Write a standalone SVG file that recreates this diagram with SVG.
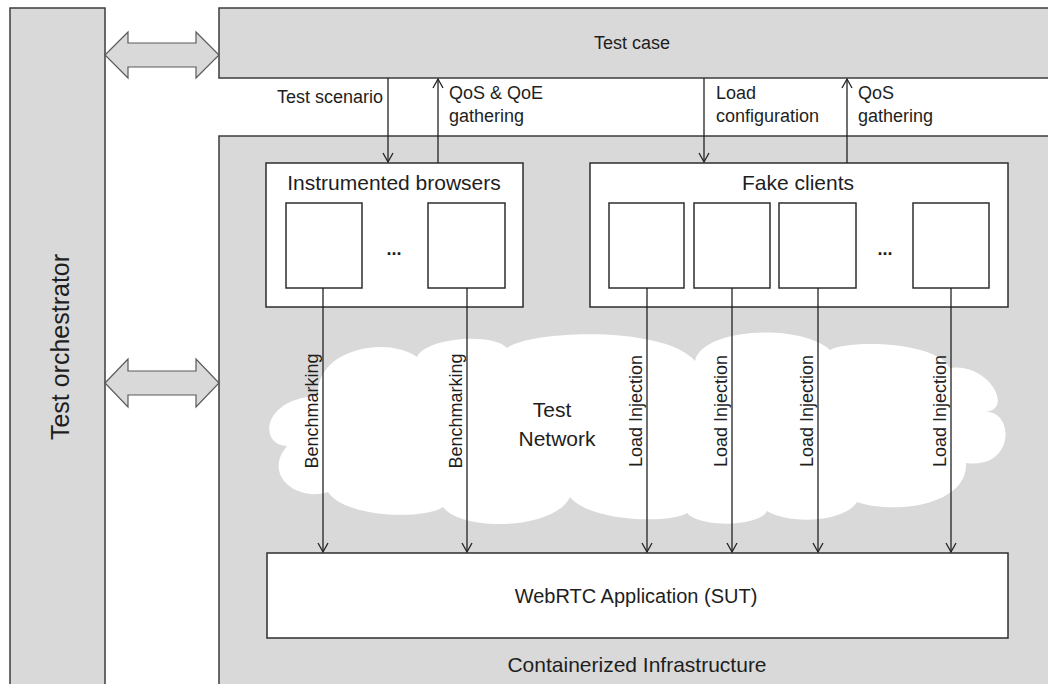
<svg xmlns="http://www.w3.org/2000/svg" width="1048" height="684" viewBox="0 0 1048 684">
<style>
  text { font-family: "Liberation Sans", Arial, sans-serif; fill: #1e1e1e; }
  .gray { fill: #d9d9d9; stroke: #3c3c3c; stroke-width: 1.5; }
  .white { fill: #ffffff; stroke: #2e2e2e; stroke-width: 1.5; }
  .dbl { fill: #d9d9d9; stroke: #5a5a5a; stroke-width: 1.2; }
  .conn { stroke: #222; stroke-width: 1.3; fill: none; marker-end: url(#arr); }
  .s { font-size: 18px; }
  .m { font-size: 21px; }
  .mid { text-anchor: middle; }
</style>
<defs>
  <marker id="arr" markerWidth="12" markerHeight="12" refX="10" refY="6" orient="auto" markerUnits="userSpaceOnUse">
    <path d="M1,1 L10,6 L1,11" fill="none" stroke="#222" stroke-width="1.3"/>
  </marker>
</defs>
<rect width="1048" height="684" fill="#ffffff"/>

<g id="orchestrator">
  <rect class="gray" x="10" y="8" width="95" height="700"/>
  <text transform="translate(69,347) rotate(-90)" class="mid" font-size="25">Test orchestrator</text>
</g>

<g id="test-case">
  <rect class="gray" x="219" y="8" width="840" height="70"/>
  <text x="632" y="49" class="s mid">Test case</text>
</g>

<g id="infrastructure">
  <rect class="gray" x="219" y="136" width="840" height="570"/>
  <text x="637" y="672" class="m mid">Containerized Infrastructure</text>
</g>

<g id="orch-arrow-top">
  <polygon class="dbl" points="105,55 128,32 128,43 196,43 196,32 219,55 196,78 196,67 128,67 128,78"/>
</g>
<g id="orch-arrow-infra">
  <polygon class="dbl" points="105,383 128,359 128,371 196,371 196,359 219,383 196,407 196,395 128,395 128,407"/>
</g>

<g id="test-network">
  <path fill="#ffffff" d="M287,446 C258,445 262,398 318,396 C315,350 385,335 417,357 C425,338 492,332 507,348 C530,330 665,325 695,361 C702,328 800,323 830,350 C845,340 935,340 950,368 C988,362 1015,410 985,412 C1015,410 1015,470 966,463 C968,505 895,515 857,502 C845,522 790,525 767,511 C760,527 700,528 687,513 C670,524 590,522 570,497 C555,530 462,532 443,507 C425,520 345,518 328,492 C298,502 262,476 287,446 Z"/>
  <text x="552" y="417" class="m mid">Test</text>
  <text x="557" y="446" class="m mid">Network</text>
</g>

<g id="instrumented-browsers">
  <rect class="white" x="266" y="163" width="257" height="144"/>
  <text x="394" y="190" class="m mid">Instrumented browsers</text>
  <rect class="white" x="286" y="203" width="76" height="85"/>
  <rect class="white" x="428" y="203" width="77" height="85"/>
  <text x="394" y="255" class="s mid" font-weight="bold">...</text>
</g>

<g id="fake-clients">
  <rect class="white" x="590" y="163" width="418" height="144"/>
  <text x="798" y="190" class="m mid">Fake clients</text>
  <rect class="white" x="609" y="203" width="75" height="85"/>
  <rect class="white" x="694" y="203" width="76" height="85"/>
  <rect class="white" x="779" y="203" width="77" height="85"/>
  <rect class="white" x="913" y="203" width="76" height="85"/>
  <text x="885" y="255" class="s mid" font-weight="bold">...</text>
</g>

<g id="webrtc-app">
  <rect class="white" x="267" y="553" width="741" height="85"/>
  <text x="636" y="603" class="mid" font-size="20">WebRTC Application (SUT)</text>
</g>

<g id="connectors">
  <line class="conn" x1="388" y1="78" x2="388" y2="162"/>
  <line class="conn" x1="438" y1="163" x2="438" y2="79"/>
  <line class="conn" x1="704" y1="78" x2="704" y2="162"/>
  <line class="conn" x1="847" y1="163" x2="847" y2="79"/>
  <line class="conn" x1="323" y1="288" x2="323" y2="552"/>
  <line class="conn" x1="467" y1="288" x2="467" y2="552"/>
  <line class="conn" x1="647" y1="288" x2="647" y2="552"/>
  <line class="conn" x1="732" y1="288" x2="732" y2="552"/>
  <line class="conn" x1="818" y1="288" x2="818" y2="552"/>
  <line class="conn" x1="951" y1="288" x2="951" y2="552"/>
</g>

<g id="connector-labels">
  <text x="383" y="103" class="s" text-anchor="end">Test scenario</text>
  <text x="449" y="99" class="s">QoS &amp; QoE</text>
  <text x="449" y="122" class="s">gathering</text>
  <text x="716" y="99" class="s">Load</text>
  <text x="716" y="122" class="s">configuration</text>
  <text x="858" y="99" class="s">QoS</text>
  <text x="858" y="122" class="s">gathering</text>
  <text transform="translate(318,411) rotate(-90)" class="s mid">Benchmarking</text>
  <text transform="translate(462,411) rotate(-90)" class="s mid">Benchmarking</text>
  <text transform="translate(642,411) rotate(-90)" class="s mid">Load Injection</text>
  <text transform="translate(727,411) rotate(-90)" class="s mid">Load Injection</text>
  <text transform="translate(813,411) rotate(-90)" class="s mid">Load Injection</text>
  <text transform="translate(946,411) rotate(-90)" class="s mid">Load Injection</text>
</g>
</svg>
